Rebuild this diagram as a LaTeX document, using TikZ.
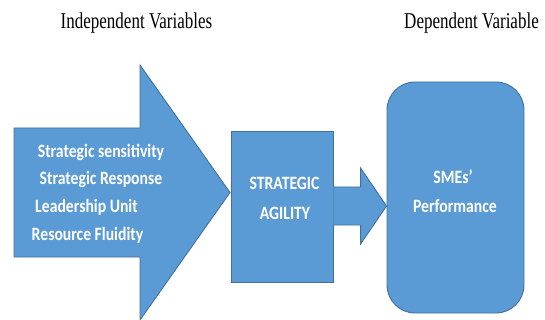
\documentclass[tikz,border=0pt]{standalone}
\usepackage{fontspec}
\usepackage{graphicx}
\setmainfont{Liberation Serif}
\newfontfamily\boxfont{Carlito}
\usetikzlibrary{calc}
\definecolor{blockfill}{HTML}{5B9BD5}
\definecolor{blockline}{HTML}{41719C}
\newcommand\tallertext[2]{\scalebox{1}[#1]{#2}}
\begin{document}
\begin{tikzpicture}[x=1pt,y=-1pt,
  block/.style={fill=blockfill,draw=blockline,line width=0.9pt,line join=miter},
  heading/.style={anchor=base,inner sep=0pt,font=\fontsize{17}{20}\selectfont},
  boxtext/.style={inner sep=0pt,text=white,font=\boxfont\bfseries\fontsize{15.7}{18}\selectfont}]
\useasboundingbox (0,0) rectangle (545,320);

% headings
\node[heading] (indep) at (136.5,29) {\tallertext{1.33}{Independent Variables}};
\node[heading] (dep) at (471.5,29) {\tallertext{1.33}{Dependent Variable}};

% large block arrow carrying the independent variables
\draw[block] (14,128) -- (140,128) -- (140,65) -- (230,192.5) -- (140,320)
  -- (140,257) -- (14,257) -- cycle;
\node[boxtext] (v1) at (101,152) {\tallertext{1.2}{Strategic sensitivity}};
\node[boxtext] (v2) at (101,179) {\tallertext{1.2}{Strategic Response}};
\node[boxtext] (v3) at (86.5,207) {\tallertext{1.2}{Leadership Unit}};
\node[boxtext] (v4) at (87.5,235) {\tallertext{1.2}{Resource Fluidity}};

% mediator
\node[block,minimum width=102pt,minimum height=151pt,inner sep=0pt] (agility) at (282,206.5) {};
\node[boxtext] (a1) at (284.5,183) {\tallertext{1.2}{STRATEGIC}};
\node[boxtext] (a2) at (285,213) {\tallertext{1.2}{AGILITY}};

% outcome
\node[block,rounded corners=28pt,minimum width=137pt,minimum height=231pt,inner sep=0pt] (perf) at (455.5,197.5) {};
\node[boxtext] (p1) at (453,177) {\tallertext{1.2}{SMEs’}};
\node[boxtext] (p2) at (455,206) {\tallertext{1.2}{Performance}};

% small block arrow from mediator to outcome
\coordinate (shaft) at ($(agility.east)+(0,-0.5)$);
\coordinate (tip) at (perf.west |- shaft);
\draw[block] ($(shaft)+(0,-19)$) -- ($(tip)+(-26,-19)$) -- ($(tip)+(-26,-38)$) -- (tip)
  -- ($(tip)+(-26,38)$) -- ($(tip)+(-26,19)$) -- ($(shaft)+(0,19)$);
\end{tikzpicture}
\end{document}
